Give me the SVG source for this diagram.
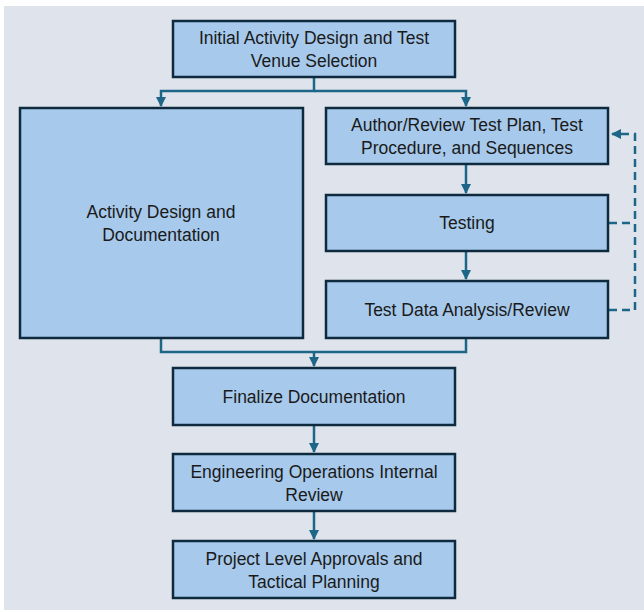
<svg xmlns="http://www.w3.org/2000/svg" width="644" height="612" viewBox="0 0 644 612">
<style>
.box{fill:#a7c9eb;stroke:#0e2a3e;stroke-width:2.5}
.t{font-family:"Liberation Sans",Arial,sans-serif;font-size:17.5px;fill:#1a1a1a;text-anchor:middle}
.c{fill:none;stroke:#1e6687;stroke-width:2.5}
.d{fill:none;stroke:#1e6687;stroke-width:2.5;stroke-dasharray:8 5}
</style>
<defs>
<marker id="ah" viewBox="0 0 10 10" refX="9" refY="5" markerWidth="4" markerHeight="4" orient="auto" markerUnits="strokeWidth">
<path d="M0,0 L10,5 L0,10 z" fill="#1e6687"/>
</marker>
</defs>
<rect x="4" y="6" width="640" height="604" fill="#dfe4ec"/>
<g id="connectors">
<path class="c" d="M314,78 V91 H161 V106" marker-end="url(#ah)"/>
<path class="c" d="M314,91 H466 V106" marker-end="url(#ah)"/>
<path class="c" d="M466,165 V193" marker-end="url(#ah)"/>
<path class="c" d="M466,252 V279" marker-end="url(#ah)"/>
<path class="c" d="M161,339 V352 H466 V339"/>
<path class="c" d="M314,352 V366" marker-end="url(#ah)"/>
<path class="c" d="M314,426 V452" marker-end="url(#ah)"/>
<path class="c" d="M314,512 V539" marker-end="url(#ah)"/>
<path class="d" d="M609,223 H635"/>
<path class="d" d="M609,310 H635 V134 H612" marker-end="url(#ah)"/>
</g>
<g id="n1"><rect class="box" x="173" y="21" width="282" height="56"/><text class="t" x="314" y="44">Initial Activity Design and Test</text><text class="t" x="314" y="67">Venue Selection</text></g>
<g id="n2"><rect class="box" x="20" y="108" width="283" height="230"/><text class="t" x="161" y="218">Activity Design and</text><text class="t" x="161" y="241">Documentation</text></g>
<g id="n3"><rect class="box" x="326" y="108" width="282" height="56"/><text class="t" x="467" y="131">Author/Review Test Plan, Test</text><text class="t" x="467" y="154">Procedure, and Sequences</text></g>
<g id="n4"><rect class="box" x="326" y="195" width="282" height="56"/><text class="t" x="467" y="229">Testing</text></g>
<g id="n5"><rect class="box" x="326" y="281" width="282" height="57"/><text class="t" x="467" y="316">Test Data Analysis/Review</text></g>
<g id="n6"><rect class="box" x="173" y="368" width="282" height="57"/><text class="t" x="314" y="403">Finalize Documentation</text></g>
<g id="n7"><rect class="box" x="173" y="454" width="282" height="57"/><text class="t" x="314" y="478">Engineering Operations Internal</text><text class="t" x="314" y="501">Review</text></g>
<g id="n8"><rect class="box" x="173" y="541" width="282" height="57"/><text class="t" x="314" y="565">Project Level Approvals and</text><text class="t" x="314" y="588">Tactical Planning</text></g>
</svg>
